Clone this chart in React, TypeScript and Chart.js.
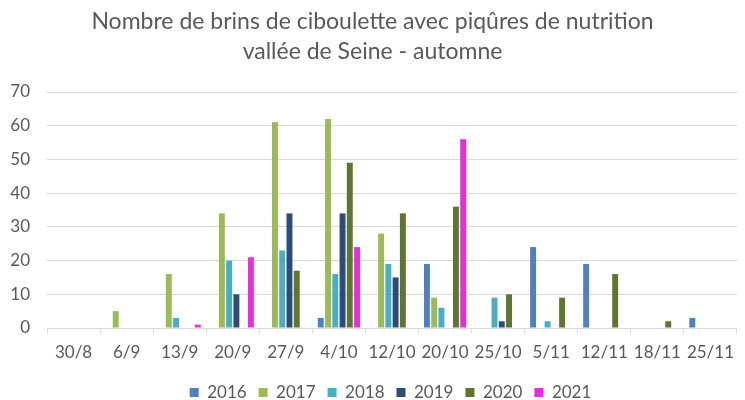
import React, { useEffect, useRef } from "react";
import { Chart, registerables } from "chart.js";

Chart.register(...registerables);

const categories = ["30/8", "6/9", "13/9", "20/9", "27/9", "4/10", "12/10", "20/10", "25/10", "5/11", "12/11", "18/11", "25/11"];
const yearLabels = ["2016", "2017", "2018", "2019", "2020", "2021"];
const values2016 = [0, 0, 0, 0, 0, 3, 0, 19, 0, 24, 19, 0, 3];
const values2017 = [0, 5, 16, 34, 61, 62, 28, 9, 0, 0, 0, 0, 0];
const values2018 = [0, 0, 3, 20, 23, 16, 19, 6, 9, 2, 0, 0, 0];
const values2019 = [0, 0, 0, 10, 34, 34, 15, 0, 2, 0, 0, 0, 0];
const values2020 = [0, 0, 0, 0, 17, 49, 34, 36, 10, 9, 16, 2, 0];
const values2021 = [0, 0, 1, 21, 0, 24, 0, 56, 0, 0, 0, 0, 0];
const seriesColors = ["#4F81BD", "#9BBB59", "#4BACC6", "#2C4D75", "#5F7530", "#E52EDC"];
const titleLines = ["Nombre de brins de ciboulette avec piqûres de nutrition", "vallée de Seine - automne"];

const FONT = "Lato, 'Open Sans', sans-serif";

const legendShift = {
  id: "legendShift",
  afterLayout(chart: any) {
    if (chart.legend) {
      chart.legend.left += 18;
      chart.legend.right += 18;
    }
  },
};

export default function App() {
  const canvasRef = useRef<HTMLCanvasElement | null>(null);

  useEffect(() => {
    if (!canvasRef.current) return;
    const allValues = [values2016, values2017, values2018, values2019, values2020, values2021];
    const chart = new Chart(canvasRef.current, {
      type: "bar",
      data: {
        labels: categories,
        datasets: allValues.map((vals, i) => ({
          label: yearLabels[i],
          data: vals,
          backgroundColor: seriesColors[i],
          borderWidth: 0,
          categoryPercentage: 0.82,
          barPercentage: 0.82,
        })),
      },
      plugins: [legendShift],
      options: {
        animation: false,
        responsive: false,
        maintainAspectRatio: false,
        layout: { padding: { left: 0, right: 0, top: 0, bottom: -11 } },
        plugins: {
          title: {
            display: true,
            text: titleLines,
            color: "#595959",
            font: { family: FONT, size: 23, weight: "normal", lineHeight: 30 / 23 },
            padding: { top: 7, bottom: 25 },
          },
          legend: {
            display: true,
            position: "bottom",
            labels: {
              color: "#595959",
              font: { family: FONT, size: 17 },
              boxWidth: 9,
              boxHeight: 9,
              padding: 12,
            },
          },
          tooltip: { enabled: false },
        },
        scales: {
          x: {
            grid: {
              display: true,
              drawOnChartArea: false,
              drawTicks: true,
              tickLength: 5,
              color: "#D9D9D9",
              offset: true,
            },
            border: { display: true, color: "#D9D9D9", width: 1 },
            ticks: {
              color: "#595959",
              font: { family: FONT, size: 17, lineHeight: 1 },
              padding: 11,
              maxRotation: 0,
              autoSkip: false,
            },
          },
          y: {
            min: 0,
            max: 70,
            afterFit: (scale: any) => {
              scale.width = 47;
            },
            grid: { color: "#D9D9D9", drawTicks: false, lineWidth: 1 },
            border: { display: false },
            ticks: {
              stepSize: 10,
              color: "#595959",
              font: { family: FONT, size: 17 },
              padding: 17,
            },
          },
        },
      },
    });
    return () => chart.destroy();
  }, []);

  return (
    <div style={{ position: "absolute", left: 0, top: 0, width: 745, height: 400, background: "#fff", overflow: "hidden" }}>
      <canvas ref={canvasRef} width={745} height={400} style={{ width: 745, height: 400 }} />
    </div>
  );
}
